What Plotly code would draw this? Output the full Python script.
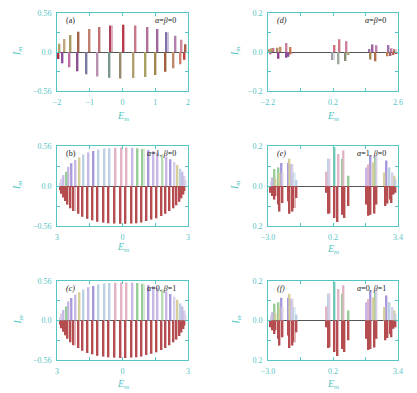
import plotly.graph_objects as go

# ---- panel (a): alpha = beta = 0 ----
a_pos_E = [-1.92, -1.78, -1.58, -1.33, -1.02, -0.70, -0.35, 0.02, 0.40, 0.75, 1.07, 1.36, 1.61, 1.80, 1.92]
a_pos_I = [0.12, 0.185, 0.245, 0.29, 0.33, 0.36, 0.38, 0.39, 0.38, 0.36, 0.33, 0.285, 0.235, 0.175, 0.11]
a_neg_E = [-1.94, -1.82, -1.63, -1.38, -1.09, -0.76, -0.40, -0.05, 0.33, 0.69, 1.02, 1.31, 1.57, 1.76, 1.90]
a_neg_I = [-0.10, -0.16, -0.22, -0.275, -0.32, -0.35, -0.37, -0.38, -0.375, -0.36, -0.33, -0.285, -0.235, -0.175, -0.11]

# ---- panel (b) / (c): alpha=1,beta=0 and alpha=0,beta=1 ----
b_pos_E = [-2.83, -2.77, -2.68, -2.57, -2.45, -2.32, -2.17, -1.98, -1.78, -1.55, -1.32, -1.08, -0.83, -0.58,
           -0.32, -0.06, 0.20, 0.46, 0.69, 0.94, 1.17, 1.40, 1.62, 1.83, 2.03, 2.22, 2.38, 2.52, 2.65, 2.74,
           2.82, 2.88]
b_pos_I = [0.05, 0.10, 0.15, 0.20, 0.27, 0.32, 0.365, 0.40, 0.44, 0.47, 0.49, 0.51, 0.525, 0.53, 0.535, 0.54,
           0.54, 0.535, 0.53, 0.52, 0.50, 0.485, 0.465, 0.44, 0.41, 0.375, 0.335, 0.295, 0.24, 0.20, 0.14, 0.08]
b_neg_E = [-2.86, -2.80, -2.72, -2.62, -2.50, -2.37, -2.22, -2.03, -1.83, -1.60, -1.37, -1.13, -0.88, -0.63,
           -0.37, -0.11, 0.15, 0.41, 0.64, 0.89, 1.12, 1.35, 1.57, 1.78, 1.98, 2.17, 2.33, 2.47, 2.60, 2.70,
           2.78, 2.85]
b_neg_I = [-0.06, -0.11, -0.16, -0.21, -0.26, -0.31, -0.35, -0.39, -0.43, -0.46, -0.48, -0.50, -0.51, -0.52,
           -0.525, -0.53, -0.53, -0.525, -0.52, -0.51, -0.49, -0.47, -0.45, -0.42, -0.39, -0.35, -0.31, -0.27,
           -0.22, -0.17, -0.12, -0.07]

# ---- panel (d): alpha = beta = 0, zoomed ----
d_pos_E = [-2.13, -2.05, -2.00, -1.85, -1.75, -1.51, -1.38, 0.25, 0.45, 0.71, 1.55, 1.66, 1.81, 2.26, 2.38, 2.49]
d_pos_I = [0.014, 0.019, 0.02, 0.022, 0.027, 0.046, 0.026, 0.036, 0.065, 0.055, 0.015, 0.039, 0.034, 0.036,
           0.019, 0.014]
d_neg_E = [-2.10, -1.80, -1.53, -1.43, -1.35, 0.20, 0.42, 0.67, 0.76, 1.60, 1.77, 2.22, 2.32, 2.43, 2.54]
d_neg_I = [-0.012, -0.034, -0.029, -0.024, -0.012, -0.041, -0.063, -0.046, -0.015, -0.038, -0.048, -0.022,
           -0.02, -0.015, -0.01]

# ---- panel (e) / (f): zoomed ----
e_pos_E = [-2.84, -2.77, -2.70, -2.64, -2.46, -2.41, -2.34, -2.28, -1.98, -1.92, -1.85, -1.77, -1.72, -1.60,
           -0.14, -0.04, 0.02, 0.28, 0.45, 0.66, 0.74, 0.94,
           1.86, 1.93, 2.07, 2.17, 2.27, 2.34,
           2.75, 2.85, 2.98, 3.11, 3.21, 3.27]
e_pos_I = [0.025, 0.042, 0.085, 0.037, 0.093, 0.068, 0.115, 0.068, 0.115, 0.136, 0.11, 0.11, 0.068, 0.03,
           0.071, 0.136, 0.136, 0.195, 0.16, 0.136, 0.178, 0.051,
           0.093, 0.108, 0.152, 0.117, 0.142, 0.15,
           0.068, 0.127, 0.093, 0.068, 0.051, 0.034]
e_neg_E = [-2.87, -2.80, -2.70, -2.64, -2.46, -2.41, -2.31, -2.01, -1.93, -1.80, -1.72, -1.62,
           -0.14, -0.04, 0.04, 0.28, 0.42, 0.66, 0.79, 0.94,
           1.86, 1.93, 2.07, 2.22, 2.34,
           2.80, 2.88, 3.01, 3.09, 3.19, 3.27]
e_neg_I = [-0.034, -0.05, -0.068, -0.05, -0.093, -0.127, -0.085, -0.076, -0.139, -0.127, -0.11, -0.06,
           -0.034, -0.139, -0.136, -0.16, -0.18, -0.144, -0.16, -0.10,
           -0.093, -0.149, -0.144, -0.137, -0.093,
           -0.10, -0.088, -0.068, -0.085, -0.042, -0.034]

# colours
L, G, P, K = "#c8b8e6", "#98cc98", "#a898dc", "#d6cf9c"
B, PK, PL, PG = "#bcd2e4", "#e2b4c4", "#d8d0e8", "#b8dcb8"
RED = "#b44c50"
a_pos_col = ["#b3a06b", "#c2a77a", "#a99a62", "#a0624a", "#c0806e", "#c07070", "#b0405a", "#b83a4a",
             "#c8788a", "#b07098", "#a06aa0", "#8070a8", "#b080b0", "#d08aa0", "#a86048"]
a_neg_col = ["#b03048", "#9050a0", "#c070a8", "#8a5090", "#7a7aa0", "#b890b0", "#7a9890", "#9a8a70",
             "#b0a070", "#a8a060", "#a08850", "#a06040", "#c08868", "#d08070", "#c04040"]
b_pos_col = [PL, PL, L, G, L, P, L, K, B, L, P, B, B, B, PK, PK, PK, L, G, G, P, L, L, PG, L, P, PL, K, B, L,
             PL, PL]
d_pos_col = ["#c0906a", "#b0a070", "#c8708a", "#a88a60", "#c0906a", "#c8809a", "#c88050",
             "#d07080", "#d07888", "#d080a0", "#a070a8", "#a060a0", "#c080b0", "#a070b0", "#c080a0", "#b07060"]
d_neg_col = ["#c06080", "#904090", "#9050a0", "#8a5090", "#c07050", "#9aa0a8", "#a0a8a0", "#8a8a70",
             "#b0a070", "#a08850", "#b07050", "#c08050", "#a06070", "#c06050", "#b05050"]
e_pos_col = [PL, L, G, K, G, K, P, PL, P, K, L, PL, B, B,
             PK, B, PL, "#70c8b8", PK, G, PK, G,
             L, PK, P, K, G, PL,
             K, P, B, PL, K, B]

TEAL = "#55c5c5"
FONT = "Liberation Serif"
W, H, PAGE = 417, 393, 8   # the page puts the figure 8 px in from the window corner


def fx(px):
    return (px - PAGE) / W


def fy(py):
    return 1 - (py - PAGE) / H


fig = go.Figure()

xdom = {"L": [fx(57), fx(188)], "R": [fx(268), fx(398)]}
ydom = {1: [fy(91), fy(13)], 2: [fy(226), fy(146)], 3: [fy(360), fy(281)]}

panels = [
    # n, col, row, pos E, pos I, pos colours, neg E, neg I, neg colours, bar width
    (1, "L", 1, a_pos_E, a_pos_I, a_pos_col, a_neg_E, a_neg_I, a_neg_col, 0.032),
    (2, "R", 1, d_pos_E, d_pos_I, d_pos_col, d_neg_E, d_neg_I, d_neg_col, 0.04),
    (3, "L", 2, b_pos_E, b_pos_I, b_pos_col, b_neg_E, b_neg_I, [RED] * len(b_neg_E), 0.048),
    (4, "R", 2, e_pos_E, e_pos_I, e_pos_col, e_neg_E, e_neg_I, [RED] * len(e_neg_E), 0.05),
    (5, "L", 3, b_pos_E, b_pos_I, b_pos_col, b_neg_E, b_neg_I, [RED] * len(b_neg_E), 0.048),
    (6, "R", 3, e_pos_E, e_pos_I, e_pos_col, e_neg_E, e_neg_I, [RED] * len(e_neg_E), 0.05),
]

for n, col, row, pE, pI, pc, nE, nI, nc, w in panels:
    ax = "" if n == 1 else str(n)
    for E, I, c in ((pE, pI, pc), (nE, nI, nc)):
        # darker stroke plus a pale companion stroke, as in the original
        fig.add_trace(go.Bar(x=E, y=I, width=w, offset=-w, marker=dict(color=c, line_width=0),
                             xaxis="x" + ax, yaxis="y" + ax, showlegend=False))
        fig.add_trace(go.Bar(x=E, y=I, width=w, offset=0, marker=dict(color=c, line_width=0), opacity=0.4,
                             xaxis="x" + ax, yaxis="y" + ax, showlegend=False))

axis_common = dict(showline=True, linecolor=TEAL, linewidth=1, mirror="ticks", ticks="inside", ticklen=3,
                   tickcolor=TEAL, tickfont=dict(family=FONT, size=8, color=TEAL), showgrid=False,
                   ticklabelstandoff=3, automargin=False)

# labelled ticks, then unlabelled (minor) ticks
xticks = {
    1: ([-2, -1, 0, 1, 2], ["\u22122", "\u22121", "0", "1", "2"], [], [-2, 2]),
    2: ([-2.2, 0.2, 2.6], ["\u22122.2", "0.2", "2.6"], [-1.0, 1.4], [-2.2, 2.6]),
    3: ([-3, 0, 3], ["3", "0", "3"], [-1.5, 1.5], [-3, 3]),
    4: ([-3.0, 0.2, 3.4], ["\u22123.0", "0.2", "3.4"], [-1.4, 1.8], [-3.0, 3.4]),
    5: ([-3, 0, 3], ["3", "0", "3"], [-1.5, 1.5], [-3, 3]),
    6: ([-3.0, 0.2, 3.4], ["\u22123.0", "0.2", "3.4"], [-1.4, 1.8], [-3.0, 3.4]),
}
big_y = ([-0.56, 0, 0.56], ["\u22120.56", "0.0", "0.56"], [-0.28, 0.28], [-0.56, 0.56])
yticks = {
    1: big_y,
    2: ([-0.2, 0, 0.2], ["\u22120.2", "0.0", "0.2"], [-0.1, 0.1], [-0.2, 0.2]),
    3: big_y,
    4: ([-0.2, 0, 0.2], ["0.2", "0.0", "0.2"], [-0.1, 0.1], [-0.2, 0.2]),
    5: big_y,
    6: ([-0.2, 0, 0.2], ["0.2", "0.0", "0.2"], [-0.1, 0.1], [-0.2, 0.2]),
}

labels = {1: ("(a)", "<i>α</i>=<i>β</i>=0"), 2: ("<i>(d)</i>", "<i>α</i>=<i>β</i>=0"),
          3: ("(b)", "<i>α</i>=1, <i>β</i>=0"), 4: ("<i>(e)</i>", "<i>α</i>=1, <i>β</i>=0"),
          5: ("<i>(c)</i>", "<i>α</i>=0, <i>β</i>=1"), 6: ("<i>(f)</i>", "<i>α</i>=0, <i>β</i>=1")}

em_y = {1: (117, 117), 2: (247, 249), 3: (384, 384)}
im_x = {"L": 18, "R": 236}


def minor(vals):
    return dict(tickvals=vals, ticks="inside", ticklen=3, tickcolor=TEAL) if vals else dict(ticks="")


layout = {}
annotations = []
for n, col, row, *_ in panels:
    ax = "" if n == 1 else str(n)
    tv, tt, mv, rng = xticks[n]
    layout["xaxis" + ax] = dict(axis_common, domain=xdom[col], anchor="y" + ax, range=rng,
                                tickvals=tv, ticktext=tt, minor=minor(mv), zeroline=False)
    tv, tt, mv, rng = yticks[n]
    layout["yaxis" + ax] = dict(axis_common, domain=ydom[row], anchor="x" + ax, range=rng,
                                tickvals=tv, ticktext=tt, minor=minor(mv), zeroline=True,
                                zerolinecolor="#555555", zerolinewidth=1)
    left, right = labels[n]
    annotations.append(dict(text=left, xref="x" + ax + " domain", yref="y" + ax + " domain", x=0.05, y=0.99,
                            xanchor="left", yanchor="top", showarrow=False,
                            font=dict(family=FONT, size=8, color="#222222")))
    annotations.append(dict(text=right, xref="x" + ax + " domain", yref="y" + ax + " domain", x=0.92, y=0.99,
                            xanchor="right", yanchor="top", showarrow=False,
                            font=dict(family=FONT, size=8, color="#222222")))
    ey = em_y[row][0 if col == "L" else 1]
    annotations.append(dict(text="<i>E</i><sub><i>m</i></sub>", xref="paper", yref="paper",
                            x=sum(xdom[col]) / 2, y=fy(ey), xanchor="center", yanchor="middle",
                            showarrow=False, font=dict(family=FONT, size=10, color=TEAL)))
    annotations.append(dict(text="<i>I</i><sub><i>m</i></sub>", xref="paper", yref="paper",
                            x=fx(im_x[col]), y=sum(ydom[row]) / 2, xanchor="center", yanchor="middle",
                            showarrow=False, textangle=-90, font=dict(family=FONT, size=10, color=TEAL)))

fig.update_layout(**layout)
fig.update_layout(width=W, height=H, margin=dict(l=0, r=0, t=0, b=0), barmode="overlay",
                  plot_bgcolor="white", paper_bgcolor="white", annotations=annotations,
                  font=dict(family=FONT))

fig.write_html("out.html")
